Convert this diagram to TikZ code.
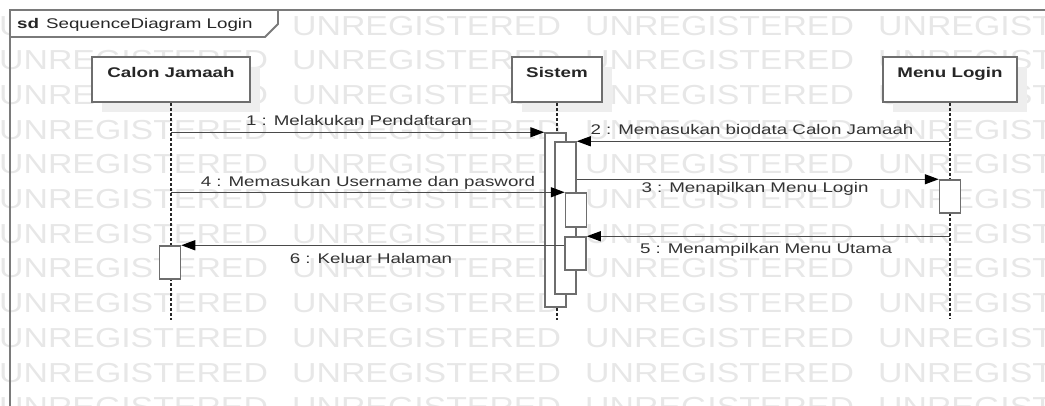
\documentclass[tikz,border=0pt]{standalone}
\usepackage{fontspec}
\setmainfont{Liberation Sans}[FakeStretch=1.34]
\newfontfamily\wmfont{Liberation Sans}[FakeStretch=1.23]
\usetikzlibrary{arrows.meta}
\definecolor{wm}{HTML}{E7E7E7}
\definecolor{boxline}{HTML}{6E6E6E}
\definecolor{frameline}{HTML}{7A7A7A}
\definecolor{msgline}{HTML}{4A4A4A}
\definecolor{txt}{HTML}{333333}
\definecolor{shadowc}{HTML}{EEEEEE}
\begin{document}
\begin{tikzpicture}[x=1bp,y=-1bp,
  every node/.style={font=\fontsize{14bp}{16bp}\selectfont, text=txt},
  headbox/.style={draw=boxline, line width=1.8bp, fill=white, inner sep=0pt, minimum height=45bp},
  actbox/.style={draw=boxline, line width=1.5bp, fill=white, inner sep=0pt, minimum width=21bp},
  lifeline/.style={line width=1.3bp, dash pattern=on 3bp off 2bp, black!85},
  msgarrow/.style={draw=msgline, line width=1.3bp, -{Triangle[length=14bp,width=10bp,color=black,fill=black]}},
  msglabel/.style={anchor=base, inner sep=0pt},
  headname/.style={anchor=base, inner sep=0pt, font=\bfseries\fontsize{14bp}{16bp}\selectfont, text=black!85},
  wmtext/.style={anchor=base west, inner sep=0pt, font=\wmfont\fontsize{27.5bp}{29bp}\selectfont, text=wm},
  framestyle/.style={draw=frameline, line width=1.8bp}
]
\useasboundingbox (0,0) rectangle (1045,405);
% watermark
\begin{scope}
  \clip (0,0) rectangle (1045,405);
  \foreach \j in {0,...,11}{
    \foreach \k in {0,...,3}{
      \node[wmtext] (wm\j-\k) at ({-1+293*\k},{35+34.7*\j}) {UNREGISTERED};
    }
  }
\end{scope}
% frame
\draw[framestyle] (10,410) -- (10,10) -- (1050,10);
\draw[framestyle, fill=white] (10,10) -- (278,10) -- (278,24) -- (265,37) -- (10,37) -- cycle;
\node[anchor=base west, inner sep=0pt, text=black!85] (title) at (17,28.3) {\textbf{sd}\hspace{7bp}SequenceDiagram Login};
% shadows
\fill[shadowc] (102,67) rectangle (260,112);
\fill[shadowc] (522,67) rectangle (612,112);
\fill[shadowc] (893,67) rectangle (1027,112);
% heads
\node[headbox, minimum width=158bp] (cj) at (171,79.5) {};
\node[headbox, minimum width=90bp] (sis) at (557,79.5) {};
\node[headbox, minimum width=134bp] (ml) at (950,79.5) {};
\node[headname] (cjn) at (171,77.3) {Calon Jamaah};
\node[headname] (sisn) at (557,77.3) {Sistem};
\node[headname] (mln) at (950,77.5) {Menu Login};
% lifelines
\coordinate (cjend) at (171,320);
\coordinate (sisend) at (557,320);
\coordinate (mlend) at (950,318);
\draw[lifeline] (cj.south) -- (cjend);
\draw[lifeline] (sis.south) -- (sisend);
\draw[lifeline] (ml.south) -- (mlend);
% activations
\node[actbox, minimum height=174bp] (a1) at (555.5,220) {};
\node[actbox, minimum height=152bp] (a2) at (565.5,218) {};
\node[actbox, minimum height=34bp] (a3) at (576,210) {};
\node[actbox, minimum height=33bp] (a4) at (575.5,253.5) {};
\node[actbox, minimum height=33bp] (am) at (950,196.5) {};
\node[actbox, minimum height=33bp] (ac) at (170,262.5) {};
% messages
\draw[msgarrow] (cj.south |- a1.north west) -- (a1.north west);
\draw[msgarrow] (ml.south |- a2.north east) -- (a2.north east);
\draw[msgarrow] (a2.east |- am.north west) -- (am.north west);
\draw[msgarrow] (cj.south |- a3.north west) -- (a3.north west);
\draw[msgarrow] (ml.south |- a4.north east) -- (a4.north east);
\draw[msgarrow] (a4.west |- ac.north east) -- (ac.north east);
% labels
\node[msglabel] (l1) at (359,125.7) {1 : Melakukan Pendaftaran};
\node[msglabel] (l2) at (752,134) {2 : Memasukan biodata Calon Jamaah};
\node[msglabel] (l3) at (755,192) {3 : Menapilkan Menu Login};
\node[msglabel] (l4) at (368,186.5) {4 : Memasukan Username dan pasword};
\node[msglabel] (l5) at (766,253) {5 : Menampilkan Menu Utama};
\node[msglabel] (l6) at (371,263) {6 : Keluar Halaman};
\end{tikzpicture}
\end{document}
